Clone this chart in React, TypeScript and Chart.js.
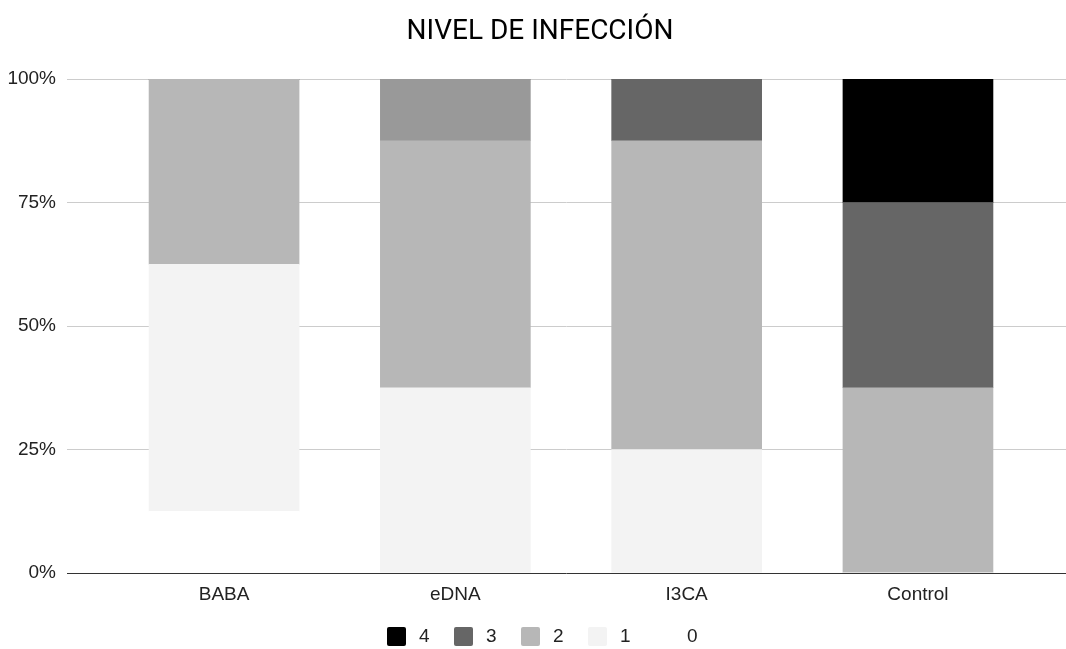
import React, { useEffect, useRef } from 'react';
import { Chart, registerables } from 'chart.js';

Chart.register(...registerables);

// Infection level distribution per treatment (percent of plants)
const categories = ['BABA', 'eDNA', 'I3CA', 'Control'];
const levelNames = ['0', '1', '2', '3', '4'];
const level0 = [12.5, 0, 0, 0];
const level1 = [50, 37.5, 25, 0];
const level2 = [37.5, 50, 62.5, 37.5];
const level3 = [0, 12.5, 12.5, 37.5];
const level4 = [0, 0, 0, 25];
const yTicks = [0, 25, 50, 75, 100];

const levelColors = ['#ffffff', '#f3f3f3', '#b7b7b7', '#666666', '#000000'];
const level3BarColors = ['#666666', '#999999', '#666666', '#666666'];

const TITLE = 'NIVEL DE INFECCIÓN';
const TITLE_FONT = 'Roboto, "Noto Sans", sans-serif';
const FONT = '"Liberation Sans", Arial, sans-serif';

const titleLegendPlugin = {
  id: 'titleLegend',
  afterDraw(chart: any) {
    const ctx = chart.ctx as CanvasRenderingContext2D;
    ctx.save();
    // title
    ctx.fillStyle = '#000000';
    ctx.font = `28px ${TITLE_FONT}`;
    ctx.textAlign = 'center';
    ctx.textBaseline = 'alphabetic';
    ctx.fillText(TITLE, 540, 39);

    // legend, highest level first
    ctx.font = `19px ${FONT}`;
    ctx.textAlign = 'left';
    let x = 387;
    for (let i = levelNames.length - 1; i >= 0; i--) {
      ctx.fillStyle = levelColors[i];
      ctx.beginPath();
      (ctx as any).roundRect(x, 627, 19, 19, 2);
      ctx.fill();
      ctx.fillStyle = '#222222';
      ctx.fillText(levelNames[i], x + 32, 642);
      x += 67;
    }
    ctx.restore();
  },
};

export default function App() {
  const canvasRef = useRef<HTMLCanvasElement | null>(null);

  useEffect(() => {
    document.body.style.margin = '0';
    const canvas = canvasRef.current;
    if (!canvas) return;

    const series = [level0, level1, level2, level3, level4];
    const datasets = series.map((values, i) => ({
      label: levelNames[i],
      data: categories.map((_, j) => ({ x: j, y: values[j] })),
      backgroundColor: i === 3 ? level3BarColors : levelColors[i],
      borderWidth: 0,
      barThickness: 150,
    }));

    const chart = new Chart(canvas, {
      type: 'bar',
      data: { datasets },
      plugins: [titleLegendPlugin],
      options: {
        animation: false,
        responsive: false,
        maintainAspectRatio: false,
        layout: { padding: { top: 79, left: 0, right: 0, bottom: 0 } },
        plugins: {
          legend: { display: false },
          title: { display: false },
          tooltip: { enabled: false },
        },
        scales: {
          x: {
            type: 'linear',
            stacked: true,
            offset: false,
            min: -0.679,
            max: 3.64,
            grid: { display: false, offset: false },
            border: { display: false },
            ticks: {
              stepSize: 1,
              includeBounds: false,
              autoSkip: false,
              maxRotation: 0,
              padding: 2,
              color: '#222222',
              font: { family: FONT, size: 19 },
              callback: (v: any) =>
                Number.isInteger(v) && categories[v] !== undefined ? categories[v] : '',
            },
            afterFit: (s: any) => {
              s.height = 76;
            },
          },
          y: {
            type: 'linear',
            stacked: true,
            min: yTicks[0],
            max: yTicks[yTicks.length - 1],
            grid: {
              drawTicks: false,
              lineWidth: 1,
              color: (c: any) => (c.tick && c.tick.value === 0 ? '#333333' : '#cccccc'),
            },
            border: { display: false },
            afterBuildTicks: (s: any) => {
              s.ticks = yTicks.map((v) => ({ value: v }));
            },
            ticks: {
              padding: 11,
              color: '#222222',
              font: { family: FONT, size: 19 },
              callback: (v: any) => `${v}%`,
            },
            afterFit: (s: any) => {
              s.width = 67;
            },
          },
        },
      },
    } as any);

    return () => chart.destroy();
  }, []);

  return (
    <div style={{ width: 1066, height: 649 }}>
      <canvas ref={canvasRef} width={1066} height={649} style={{ display: 'block', width: 1066, height: 649 }} />
    </div>
  );
}
